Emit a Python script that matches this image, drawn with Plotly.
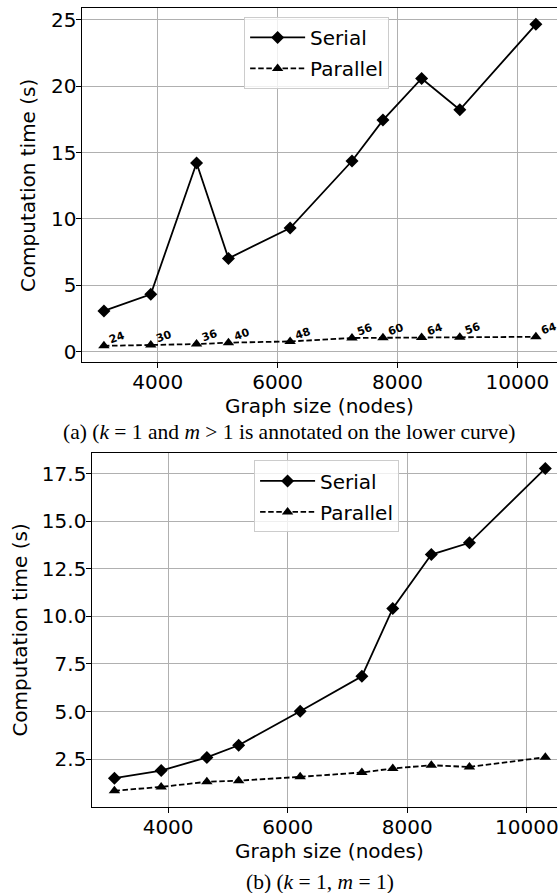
import plotly.graph_objects as go

# ---------------- data ----------------
graph_sizes = [3102, 3884, 4648, 5180, 6209, 7241, 7758, 8403, 9040, 10310]

serial_a = [3.08, 4.33, 14.21, 7.03, 9.31, 14.36, 17.44, 20.57, 18.22, 24.65]
parallel_a = [0.45, 0.52, 0.58, 0.69, 0.78, 1.04, 1.05, 1.07, 1.1, 1.13]
m_labels = ["24", "30", "36", "40", "48", "56", "60", "64", "56", "64"]

serial_b = [1.5, 1.9, 2.59, 3.23, 5.02, 6.85, 10.42, 13.25, 13.87, 17.78]
parallel_b = [0.84, 1.04, 1.31, 1.37, 1.57, 1.8, 2.01, 2.18, 2.09, 2.6]

x_ticks = [4000, 6000, 8000, 10000]
y_ticks_a = [0, 5, 10, 15, 20, 25]
y_ticks_b = [2.5, 5.0, 7.5, 10.0, 12.5, 15.0, 17.5]

caption_a = "(a) (<i>k</i> = 1 and <i>m</i> &gt; 1 is annotated on the lower curve)"
caption_b = "(b) (<i>k</i> = 1, <i>m</i> = 1)"

# ---------------- layout helpers ----------------
W, H = 559, 893
FONT = "DejaVu Sans"


def px_x(p):
    return p / W


def px_y(p):
    return 1 - p / H


fig = go.Figure()

serial_line = dict(color="black", width=1.8)
parallel_line = dict(color="black", width=1.8, dash="5.5px,2.6px")
diamond = dict(symbol="diamond", size=10, color="black")
triangle = dict(symbol="triangle-up", size=10, color="black")

# Plot (a)
fig.add_trace(go.Scatter(x=graph_sizes, y=serial_a, name="Serial", mode="lines+markers",
                         line=serial_line, marker=diamond,
                         xaxis="x", yaxis="y", legend="legend", legendgroup="s1"))
fig.add_trace(go.Scatter(x=graph_sizes, y=parallel_a, name="Parallel", mode="lines+markers",
                         line=parallel_line, marker=triangle,
                         xaxis="x", yaxis="y", legend="legend", legendgroup="p1"))
# Plot (b)
fig.add_trace(go.Scatter(x=graph_sizes, y=serial_b, name="Serial", mode="lines+markers",
                         line=serial_line, marker=diamond,
                         xaxis="x2", yaxis="y2", legend="legend2", legendgroup="s2"))
fig.add_trace(go.Scatter(x=graph_sizes, y=parallel_b, name="Parallel", mode="lines+markers",
                         line=parallel_line, marker=triangle,
                         xaxis="x2", yaxis="y2", legend="legend2", legendgroup="p2"))

axis_common = dict(showgrid=True, gridcolor="#b0b0b0", gridwidth=1, zeroline=False,
                   showline=True, linecolor="black", linewidth=1,
                   ticks="outside", ticklen=5, tickwidth=1, tickcolor="black",
                   ticklabeloverflow="allow",
                   tickfont=dict(family=FONT, size=20, color="black"))

legend_common = dict(bgcolor="rgba(255,255,255,0.8)", bordercolor="#cccccc", borderwidth=1,
                     font=dict(family=FONT, size=20, color="black"), xanchor="left", yanchor="top",
                     itemwidth=55, tracegroupgap=2)

fig.update_layout(
    width=W, height=H, margin=dict(l=0, r=0, t=0, b=0),
    paper_bgcolor="white", plot_bgcolor="white",
    showlegend=True,
    xaxis=dict(axis_common, domain=[px_x(82.7), 1.0], range=[2743, 10662], tickvals=x_ticks,
               tickformat="d", anchor="y", mirror=True, ticklabelstandoff=-3),
    yaxis=dict(axis_common, domain=[px_y(362.3), px_y(7.3)], range=[-0.773, 25.855],
               tickvals=y_ticks_a, anchor="x", ticklabelstandoff=-4),
    xaxis2=dict(axis_common, domain=[px_x(92.7), 1.0], range=[2733, 10505], tickvals=x_ticks,
                tickformat="d", anchor="y2", mirror=True, ticklabelstandoff=-3),
    yaxis2=dict(axis_common, domain=[px_y(808.3), px_y(453.3)], range=[0.007, 18.6],
                tickvals=y_ticks_b, tickformat=".1f", anchor="x2", ticklabelstandoff=-4),
    legend=dict(legend_common, x=px_x(245), y=px_y(16)),
    legend2=dict(legend_common, x=px_x(255), y=px_y(461)),
)

annotations = []
# m labels on the lower curve of plot (a)
for xv, yv, lab in zip(graph_sizes, parallel_a, m_labels):
    annotations.append(dict(x=xv, y=yv, xref="x", yref="y", text=lab, showarrow=False,
                            xanchor="left", yanchor="bottom", textangle=-20, xshift=1, yshift=-3,
                            font=dict(family=FONT, size=11, color="black", weight="bold")))

title_font = dict(family=FONT, size=20, color="black")
cap_font = dict(family="Liberation Serif", size=21.5, color="black")
annotations += [
    dict(x=px_x(28), y=px_y(184.8), xref="paper", yref="paper", text="Computation time (s)",
         textangle=-90, showarrow=False, font=title_font, xanchor="center", yanchor="middle"),
    dict(x=px_x(321), y=px_y(406), xref="paper", yref="paper", text="Graph size (nodes)",
         showarrow=False, font=title_font, xanchor="center", yanchor="middle"),
    dict(x=px_x(20), y=px_y(630.8), xref="paper", yref="paper", text="Computation time (s)",
         textangle=-90, showarrow=False, font=title_font, xanchor="center", yanchor="middle"),
    dict(x=px_x(330.5), y=px_y(852.7), xref="paper", yref="paper", text="Graph size (nodes)",
         showarrow=False, font=title_font, xanchor="center", yanchor="middle"),
    dict(x=px_x(290), y=px_y(432.7), xref="paper", yref="paper", text=caption_a,
         showarrow=False, font=cap_font, xanchor="center", yanchor="middle"),
    dict(x=px_x(321), y=px_y(884), xref="paper", yref="paper", text=caption_b,
         showarrow=False, font=cap_font, xanchor="center", yanchor="middle"),
]
fig.update_layout(annotations=annotations)

fig.write_html("out.html", config={"displayModeBar": False},
               post_script="document.body.style.margin='0';document.body.style.overflow='hidden';")
